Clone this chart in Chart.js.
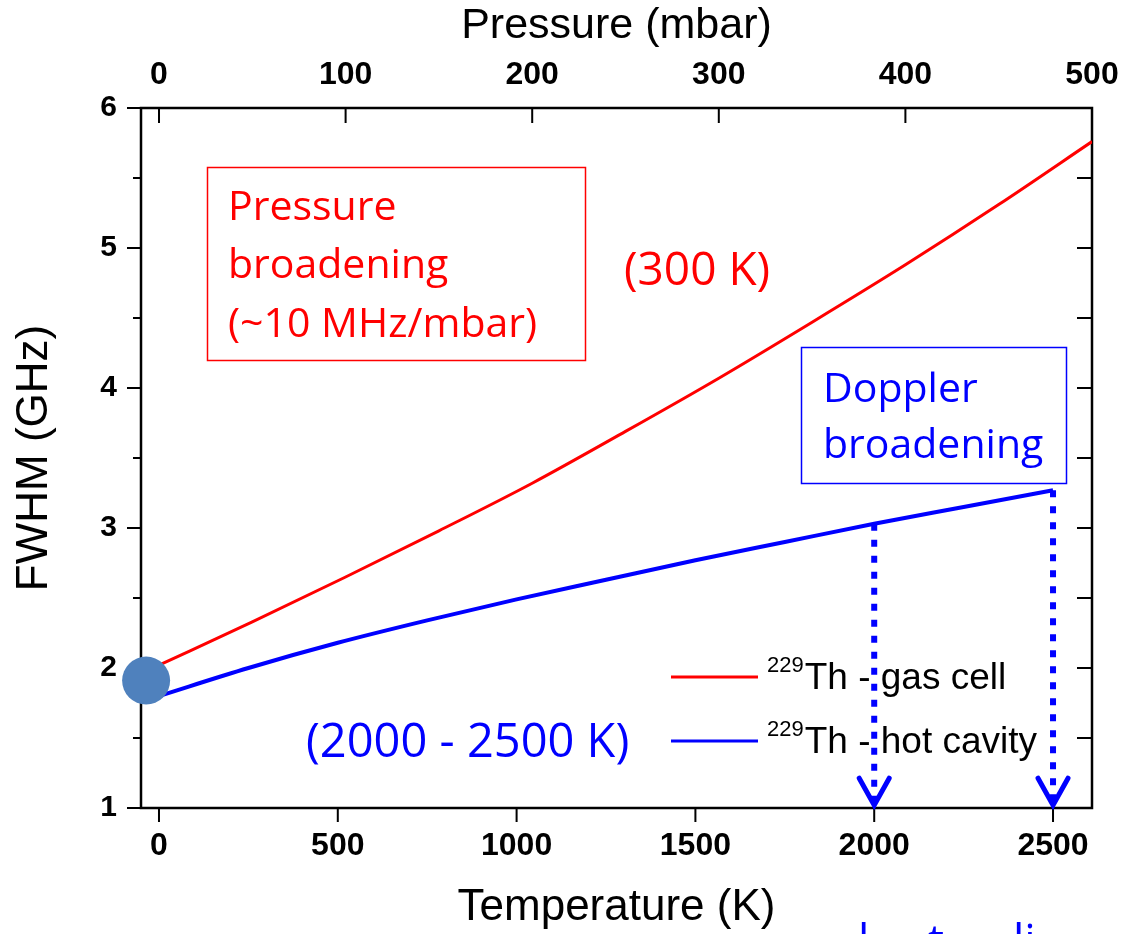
<!DOCTYPE html>
<html>
<head>
<meta charset="utf-8">
<script src="https://cdn.jsdelivr.net/npm/chart.js@4/dist/chart.umd.min.js"></script>
<style>
  html, body { margin: 0; padding: 0; background: #fff; }
  canvas { display: block; }
</style>
</head>
<body>
<canvas id="chart" width="1121" height="934"></canvas>
<script>
// top axis: pressure (mbar) -> gas cell FWHM (GHz)
const pressure = [0, 50, 100, 150, 200, 250, 300, 350, 400, 450, 500];
const gasCellFwhm = [2.02, 2.33, 2.65, 2.98, 3.32, 3.69, 4.07, 4.47, 4.88, 5.31, 5.76];

// bottom axis: temperature (K) -> hot cavity FWHM (GHz)
const temperature = [0, 250, 500, 750, 1000, 1250, 1500, 1750, 2000, 2250, 2500];
const hotCavityFwhm = [1.80, 2.00, 2.18, 2.34, 2.49, 2.63, 2.77, 2.90, 3.03, 3.15, 3.27];

// marker at the start of both curves
const startPoint = [{ x: -36, y: 1.91 }];

// dotted arrows down to the temperature axis
const arrowTemps = [2000, 2500];
const arrowTops = [3.03, 3.27];
const arrowBottom = 1.02;

const tempTicks = [0, 500, 1000, 1500, 2000, 2500];
const pressureTicks = [0, 100, 200, 300, 400, 500];
const fwhmTicks = [1, 2, 3, 4, 5, 6];
const fwhmMinor = [1.5, 2.5, 3.5, 4.5, 5.5];

const RED = '#ff0000';
const BLUE = '#0000ff';
const AX_FONT = 'Arial, "Liberation Sans", sans-serif';
const NOTE_FONT = '"Open Sans", "Noto Sans", sans-serif';

const toPts = (xs, ys) => xs.map((x, i) => ({ x: x, y: ys[i] }));

const arrowSets = arrowTemps.map((t, i) => ({
  label: 'arrow' + t,
  data: [{ x: t, y: arrowTops[i] }, { x: t, y: arrowBottom }],
  xAxisID: 'x',
  borderColor: BLUE,
  borderWidth: 6,
  borderDash: [7, 9],
  borderCapStyle: 'butt',
  pointRadius: 0,
  isArrow: true,
  order: 1
}));

const noPad = s => { s.paddingLeft = 0; s.paddingRight = 0; };

const frame = {
  id: 'frame',
  beforeDatasetsDraw(chart) {
    const { ctx, chartArea: a, scales } = chart;
    ctx.save();
    ctx.strokeStyle = '#000';
    ctx.lineWidth = 2.5;
    ctx.strokeRect(a.left, a.top, a.right - a.left, a.bottom - a.top);

    ctx.lineWidth = 2;
    ctx.beginPath();
    fwhmTicks.forEach(v => {
      const y = scales.y.getPixelForValue(v);
      ctx.moveTo(a.left - 14, y); ctx.lineTo(a.left, y);
      ctx.moveTo(a.right - 15, y); ctx.lineTo(a.right, y);
    });
    fwhmMinor.forEach(v => {
      const y = scales.y.getPixelForValue(v);
      ctx.moveTo(a.left - 8, y); ctx.lineTo(a.left, y);
      ctx.moveTo(a.right - 15, y); ctx.lineTo(a.right, y);
    });
    tempTicks.forEach(v => {
      const x = scales.x.getPixelForValue(v);
      ctx.moveTo(x, a.bottom); ctx.lineTo(x, a.bottom + 14);
    });
    pressureTicks.forEach(v => {
      const x = scales.x2.getPixelForValue(v);
      ctx.moveTo(x, a.top); ctx.lineTo(x, a.top + 15);
    });
    ctx.stroke();

    // legend
    const rows = [
      { text: 'Th - gas cell', color: RED, y: 677, base: 689 },
      { text: 'Th - hot cavity', color: BLUE, y: 741, base: 753 }
    ];
    rows.forEach(r => {
      ctx.strokeStyle = r.color;
      ctx.lineWidth = 3;
      ctx.beginPath();
      ctx.moveTo(671, r.y); ctx.lineTo(758, r.y);
      ctx.stroke();
      ctx.fillStyle = '#000';
      ctx.textBaseline = 'alphabetic';
      ctx.textAlign = 'left';
      ctx.font = '22px ' + AX_FONT;
      ctx.fillText('229', 767, r.base - 17);
      const w = ctx.measureText('229').width;
      ctx.font = '37px ' + AX_FONT;
      ctx.fillText(r.text, 767 + w + 1, r.base);
    });
    ctx.restore();
  },
  afterDatasetsDraw(chart) {
    const { ctx } = chart;
    ctx.save();
    ctx.strokeStyle = BLUE;
    ctx.lineWidth = 5;
    ctx.lineCap = 'round';
    chart.data.datasets.forEach((ds, i) => {
      if (!ds.isArrow) return;
      const pts = chart.getDatasetMeta(i).data;
      const tip = pts[pts.length - 1];
      ctx.beginPath();
      ctx.moveTo(tip.x - 15, tip.y - 27);
      ctx.lineTo(tip.x, tip.y);
      ctx.lineTo(tip.x + 15, tip.y - 27);
      ctx.stroke();
    });
    ctx.restore();
  },
  afterDraw(chart) {
    const { ctx } = chart;
    ctx.save();
    ctx.textBaseline = 'alphabetic';
    ctx.textAlign = 'left';

    // pressure broadening box
    ctx.strokeStyle = RED;
    ctx.lineWidth = 1.5;
    ctx.strokeRect(207.5, 167.5, 378, 193);
    ctx.fillStyle = RED;
    ctx.font = '41px ' + NOTE_FONT;
    ctx.fillText('Pressure', 228, 220);
    ctx.fillText('broadening', 228, 278);
    ctx.fillText('(~10 MHz/mbar)', 228, 337);
    ctx.font = '46px ' + NOTE_FONT;
    ctx.fillText('(300 K)', 624, 285);

    // doppler broadening box
    ctx.strokeStyle = BLUE;
    ctx.strokeRect(801.5, 347.5, 265, 136);
    ctx.fillStyle = BLUE;
    ctx.font = '41px ' + NOTE_FONT;
    ctx.fillText('Doppler', 823, 402);
    ctx.fillText('broadening', 823, 458);
    ctx.font = '47px ' + NOTE_FONT;
    ctx.fillText('(2000 - 2500 K)', 306, 757);

    // text cut off at the bottom edge
    ctx.font = '45px ' + NOTE_FONT;
    ctx.fillText('l', 858, 957);
    ctx.fillText('t', 928, 957);
    ctx.fillText('li', 1013, 957);
    ctx.restore();
  }
};

new Chart(document.getElementById('chart'), {
  type: 'line',
  data: {
    datasets: [
      {
        label: 'start',
        data: startPoint,
        xAxisID: 'x',
        showLine: false,
        pointRadius: 24,
        pointBackgroundColor: '#4f81bd',
        pointBorderColor: '#4f81bd',
        pointBorderWidth: 0,
        clip: false,
        order: 0
      },
      ...arrowSets,
      {
        label: '229Th - gas cell',
        data: toPts(pressure, gasCellFwhm),
        xAxisID: 'x2',
        borderColor: RED,
        borderWidth: 3,
        pointRadius: 0,
        cubicInterpolationMode: 'monotone',
        order: 2
      },
      {
        label: '229Th - hot cavity',
        data: toPts(temperature, hotCavityFwhm),
        xAxisID: 'x',
        borderColor: BLUE,
        borderWidth: 4,
        pointRadius: 0,
        cubicInterpolationMode: 'monotone',
        order: 2
      }
    ]
  },
  options: {
    responsive: false,
    animation: false,
    layout: { padding: { left: 0, top: 0, right: 29, bottom: 0 } },
    plugins: { legend: { display: false }, tooltip: { enabled: false } },
    scales: {
      x: {
        type: 'linear',
        position: 'bottom',
        min: -50.3,
        max: 2609,
        grid: { display: false, drawTicks: false },
        border: { display: false },
        afterBuildTicks: s => { s.ticks = tempTicks.map(v => ({ value: v })); },
        afterFit: s => { s.height = 126; noPad(s); },
        ticks: {
          padding: 19,
          color: '#000',
          maxRotation: 0,
          font: { family: AX_FONT, size: 32, weight: 'bold' },
          callback: v => String(v)
        },
        title: {
          display: true,
          text: 'Temperature (K)',
          color: '#000',
          padding: { top: 0, bottom: 0 },
          font: { family: AX_FONT, size: 44, lineHeight: 1.2 }
        }
      },
      x2: {
        type: 'linear',
        position: 'top',
        min: -9.65,
        max: 500,
        grid: { display: false, drawTicks: false },
        border: { display: false },
        afterBuildTicks: s => { s.ticks = pressureTicks.map(v => ({ value: v })); },
        afterFit: s => { s.height = 108; noPad(s); },
        ticks: {
          padding: 14,
          color: '#000',
          maxRotation: 0,
          font: { family: AX_FONT, size: 32, weight: 'bold' },
          callback: v => String(v)
        },
        title: {
          display: true,
          text: 'Pressure (mbar)',
          color: '#000',
          padding: { top: 0, bottom: 0 },
          font: { family: AX_FONT, size: 43, lineHeight: 1.2 }
        }
      },
      y: {
        type: 'linear',
        position: 'left',
        min: 1,
        max: 6,
        grid: { display: false, drawTicks: false },
        border: { display: false },
        afterBuildTicks: s => { s.ticks = fwhmTicks.map(v => ({ value: v })); },
        afterFit: s => { s.width = 141; },
        ticks: {
          padding: 24,
          color: '#000',
          font: { family: AX_FONT, size: 30, weight: 'bold' },
          callback: v => String(v)
        },
        title: {
          display: true,
          text: 'FWHM (GHz)',
          color: '#000',
          padding: { top: 8, bottom: 0 },
          font: { family: AX_FONT, size: 44, lineHeight: 1.2 }
        }
      }
    }
  },
  plugins: [frame]
});
</script>
</body>
</html>
